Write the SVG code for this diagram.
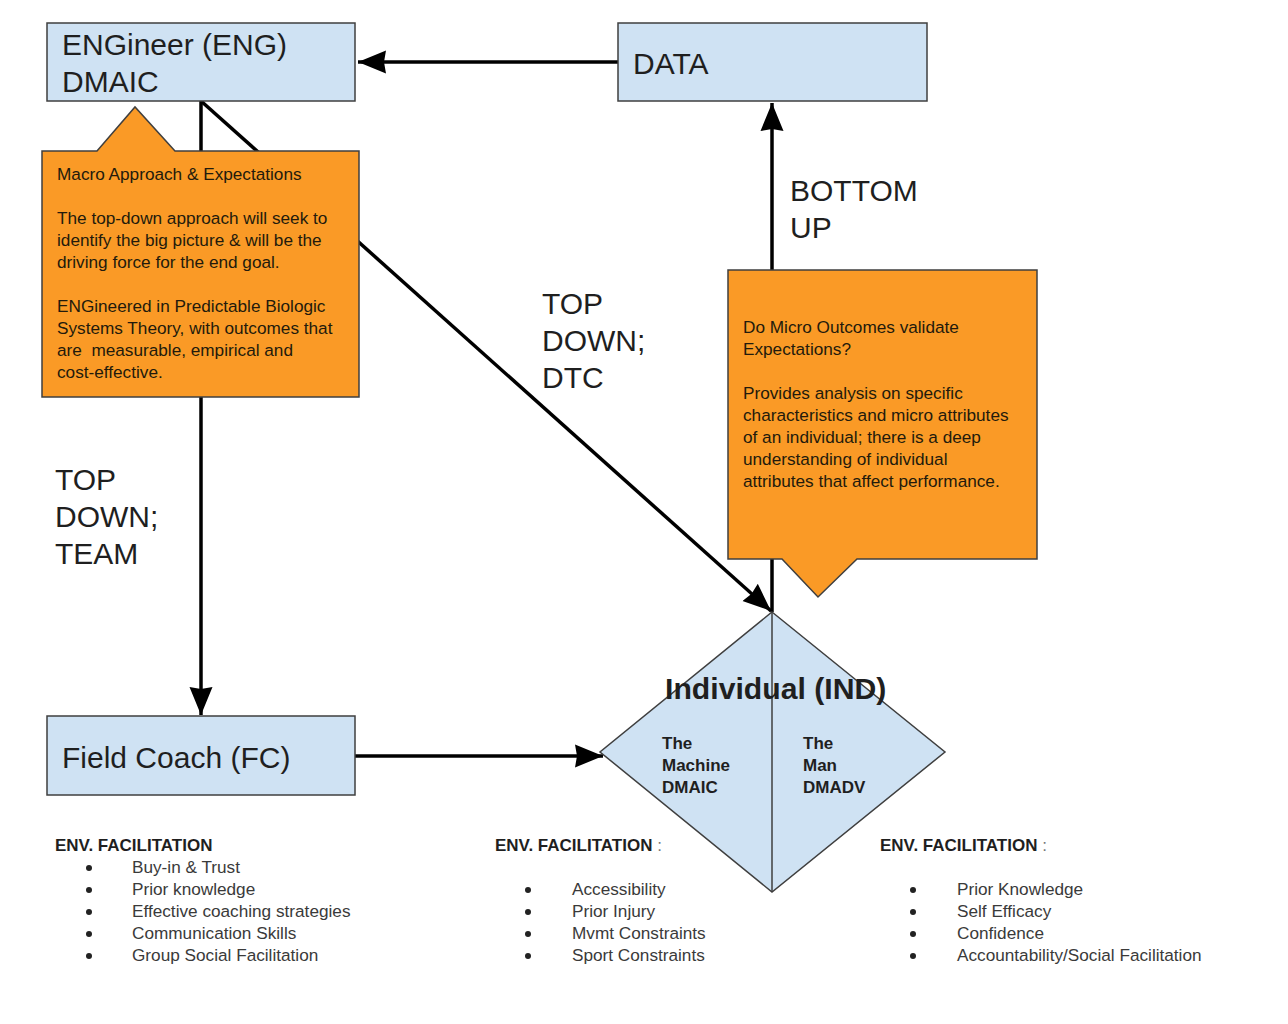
<svg xmlns="http://www.w3.org/2000/svg" width="1288" height="1024" viewBox="0 0 1288 1024">
<defs>
<style>
text{font-family:"Liberation Sans",Arial,sans-serif;fill:#1f1f1f}
.big{font-size:30px}
.bigb{font-size:30.2px;font-weight:bold}
.smb{font-size:17px;font-weight:bold}
.hd{font-size:17px;font-weight:bold}
.li{font-size:17.2px;fill:#3a3a3a}
.box{fill:#cfe2f3;stroke:#3f3f3f;stroke-width:1.5}
.call{fill:#fa9a26;stroke:#3f3f3f;stroke-width:1.5}
.ct{font-size:17.2px;fill:#231a0c}
.edge{stroke:#000;stroke-width:3.5;fill:none}
.bul{fill:#222}
</style>
<marker id="ah" markerUnits="userSpaceOnUse" markerWidth="30" markerHeight="24" refX="28" refY="12" orient="auto" viewBox="0 0 30 24">
<path d="M0,0.5 L28,12 L0,23.5 L2,12 Z" fill="#000"/>
</marker>
</defs>
<rect width="1288" height="1024" fill="#fff"/>

<g id="connectors">
<line class="edge" x1="618" y1="62" x2="358" y2="62" marker-end="url(#ah)"/>
<line class="edge" x1="201" y1="101" x2="201" y2="715" marker-end="url(#ah)"/>
<line class="edge" x1="201" y1="101" x2="771" y2="611" marker-end="url(#ah)"/>
<line class="edge" x1="772" y1="612" x2="772" y2="103" marker-end="url(#ah)"/>
<line class="edge" x1="355" y1="756" x2="603" y2="756" marker-end="url(#ah)"/>
</g>

<g id="eng">
<rect class="box" x="47" y="23" width="308" height="78"/>
<text class="big" x="62" y="55">ENGineer (ENG)</text>
<text class="big" x="62" y="92">DMAIC</text>
</g>

<g id="data">
<rect class="box" x="618" y="23" width="309" height="78"/>
<text class="big" x="633" y="74">DATA</text>
</g>

<g id="fc">
<rect class="box" x="47" y="716" width="308" height="79"/>
<text class="big" x="62" y="768">Field Coach (FC)</text>
</g>

<g id="macro-callout">
<path class="call" d="M42,151 L97,151 L135,107 L175,151 L359,151 L359,397 L42,397 Z"/>
<text class="ct" x="57" y="180">Macro Approach &amp; Expectations</text>
<text class="ct" x="57" y="224">The top-down approach will seek to</text>
<text class="ct" x="57" y="246">identify the big picture &amp; will be the</text>
<text class="ct" x="57" y="268">driving force for the end goal.</text>
<text class="ct" x="57" y="312">ENGineered in Predictable Biologic</text>
<text class="ct" x="57" y="334">Systems Theory, with outcomes that</text>
<text class="ct" x="57" y="356" xml:space="preserve">are  measurable, empirical and</text>
<text class="ct" x="57" y="378">cost-effective.</text>
</g>

<g id="micro-callout">
<path class="call" d="M728,270 L1037,270 L1037,559 L857,559 L818,597 L782,559 L728,559 Z"/>
<text class="ct" x="743" y="333">Do Micro Outcomes validate</text>
<text class="ct" x="743" y="355">Expectations?</text>
<text class="ct" x="743" y="399">Provides analysis on specific</text>
<text class="ct" x="743" y="421">characteristics and micro attributes</text>
<text class="ct" x="743" y="443">of an individual; there is a deep</text>
<text class="ct" x="743" y="465">understanding of individual</text>
<text class="ct" x="743" y="487">attributes that affect performance.</text>
</g>

<g id="individual">
<path class="box" d="M772,612 L945,752 L772,892 L600,752 Z"/>
<line x1="772" y1="612" x2="772" y2="892" stroke="#3f3f3f" stroke-width="1.5"/>
<text class="bigb" x="665" y="699">Individual (IND)</text>
<text class="smb" x="662" y="749">The</text>
<text class="smb" x="662" y="771">Machine</text>
<text class="smb" x="662" y="793">DMAIC</text>
<text class="smb" x="803" y="749">The</text>
<text class="smb" x="803" y="771">Man</text>
<text class="smb" x="803" y="793">DMADV</text>
</g>

<g id="labels">
<text class="big" x="790" y="201">BOTTOM</text>
<text class="big" x="790" y="238">UP</text>
<text class="big" x="542" y="314">TOP</text>
<text class="big" x="542" y="351">DOWN;</text>
<text class="big" x="542" y="388">DTC</text>
<text class="big" x="55" y="490">TOP</text>
<text class="big" x="55" y="527">DOWN;</text>
<text class="big" x="55" y="564">TEAM</text>
</g>

<g id="list-fc">
<text class="hd" x="55" y="851">ENV. FACILITATION</text>
<circle class="bul" cx="89" cy="868" r="3"/>
<circle class="bul" cx="89" cy="890" r="3"/>
<circle class="bul" cx="89" cy="912" r="3"/>
<circle class="bul" cx="89" cy="934" r="3"/>
<circle class="bul" cx="89" cy="956" r="3"/>
<text class="li" x="132" y="873">Buy-in &amp; Trust</text>
<text class="li" x="132" y="895">Prior knowledge</text>
<text class="li" x="132" y="917">Effective coaching strategies</text>
<text class="li" x="132" y="939">Communication Skills</text>
<text class="li" x="132" y="961">Group Social Facilitation</text>
</g>

<g id="list-machine">
<text class="hd" x="495" y="851">ENV. FACILITATION<tspan style="font-weight:normal;fill:#777"> :</tspan></text>
<circle class="bul" cx="528" cy="890" r="3"/>
<circle class="bul" cx="528" cy="912" r="3"/>
<circle class="bul" cx="528" cy="934" r="3"/>
<circle class="bul" cx="528" cy="956" r="3"/>
<text class="li" x="572" y="895">Accessibility</text>
<text class="li" x="572" y="917">Prior Injury</text>
<text class="li" x="572" y="939">Mvmt Constraints</text>
<text class="li" x="572" y="961">Sport Constraints</text>
</g>

<g id="list-man">
<text class="hd" x="880" y="851">ENV. FACILITATION<tspan style="font-weight:normal;fill:#777"> :</tspan></text>
<circle class="bul" cx="913" cy="890" r="3"/>
<circle class="bul" cx="913" cy="912" r="3"/>
<circle class="bul" cx="913" cy="934" r="3"/>
<circle class="bul" cx="913" cy="956" r="3"/>
<text class="li" x="957" y="895">Prior Knowledge</text>
<text class="li" x="957" y="917">Self Efficacy</text>
<text class="li" x="957" y="939">Confidence</text>
<text class="li" x="957" y="961">Accountability/Social Facilitation</text>
</g>
</svg>
